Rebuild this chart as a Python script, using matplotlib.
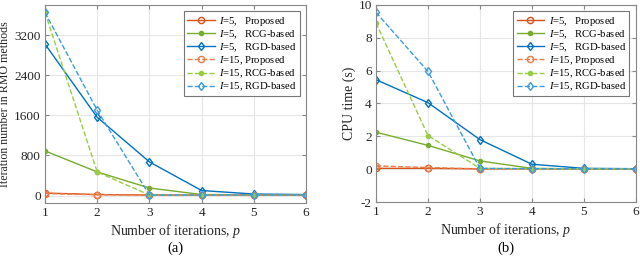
import numpy as np
import matplotlib
matplotlib.use("Agg")
import matplotlib.pyplot as plt

plt.rcParams['font.family'] = ['Liberation Serif', 'DejaVu Serif']
plt.rcParams['mathtext.fontset'] = 'custom'
plt.rcParams['mathtext.rm'] = 'Liberation Serif'
plt.rcParams['mathtext.it'] = 'Liberation Serif:italic'
plt.rcParams['axes.unicode_minus'] = False

p = [1, 2, 3, 4, 5, 6]

# (a) iteration numbers in RMO methods
it_prop5 = [50, 20, 10, 10, 10, 10]
it_rcg5 = [890, 470, 150, 20, 15, 10]
it_rgd5 = [3020, 1560, 670, 100, 30, 20]
it_prop15 = [40, 15, 10, 10, 10, 10]
it_rcg15 = [3650, 470, 10, 10, 10, 10]
it_rgd15 = [3650, 1700, 10, 10, 10, 10]

# (b) CPU time (s)
t_prop5 = [0.05, 0.05, 0.02, 0.02, 0.02, 0.02]
t_rcg5 = [2.25, 1.45, 0.5, 0.05, 0.02, 0.02]
t_rgd5 = [5.45, 4.05, 1.8, 0.3, 0.05, 0.03]
t_prop15 = [0.2, 0.1, 0.02, 0.02, 0.02, 0.02]
t_rcg15 = [8.9, 2.05, 0.05, 0.03, 0.02, 0.02]
t_rgd15 = [9.55, 5.95, 0.05, 0.03, 0.02, 0.02]

labels = ['$I$=5,   Proposed', '$I$=5,   RCG-based', '$I$=5,   RGD-based',
          '$I$=15, Proposed', '$I$=15, RCG-based', '$I$=15, RGD-based']
colors = ['#D95319', '#77AC30', '#0072BD', '#EE7A45', '#99CC44', '#3C9BE0']
markers = ['o', '.', 'd', 'o', '.', 'd']
styles = ['-', '-', '-', '--', '--', '--']

fig = plt.figure(figsize=(6.4, 2.6), dpi=100)
ax1 = fig.add_axes([0.0703, 0.219, 0.408, 0.762])
ax2 = fig.add_axes([0.5875, 0.223, 0.406, 0.758])

def draw(ax, series):
    for k, y in enumerate(series):
        ax.plot(p, y, linestyle=styles[k], color=colors[k], marker=markers[k],
                markersize=4.5 if markers[k] != '.' else 6,
                markerfacecolor='none' if markers[k] != '.' else colors[k],
                markeredgewidth=1.0, linewidth=1.0, label=labels[k])
    ax.set_xlim(1, 6)
    ax.set_xticks(p)
    ax.grid(True, color='#e6e6e6', linewidth=0.8)
    ax.set_axisbelow(True)
    for s in ax.spines.values():
        s.set_color('#888888')
        s.set_linewidth(0.8)
    ax.tick_params(direction='in', top=True, right=True, labelsize=9.5,
                   color='#888888', length=3, pad=3, labelcolor='#262626')
    ax.set_xlabel('Number of iterations, $p$', fontsize=10, color='#262626', labelpad=2)
    leg = ax.legend(loc='upper right', fontsize=7.7, frameon=True, fancybox=False,
                    edgecolor='#555555', handlelength=2.6, handletextpad=0.4,
                    labelspacing=0.05, borderpad=0.3, borderaxespad=0.6)
    leg.get_frame().set_linewidth(0.8)

draw(ax1, [it_prop5, it_rcg5, it_rgd5, it_prop15, it_rcg15, it_rgd15])
ax1.set_ylim(-150, 3800)
ax1.set_yticks([0, 800, 1600, 2400, 3200])
ax1.set_ylabel('Iteration number in RMO methods', fontsize=8.6, color='#262626', labelpad=2)

draw(ax2, [t_prop5, t_rcg5, t_rgd5, t_prop15, t_rcg15, t_rgd15])
ax2.set_ylim(-2, 10)
ax2.set_yticks([-2, 0, 2, 4, 6, 8, 10])
ax2.set_ylabel('CPU time (s)', fontsize=10, color='#262626', labelpad=2)

fig.text(0.274, 0.03, '(a)', ha='center', fontsize=10.5)
fig.text(0.79, 0.03, '(b)', ha='center', fontsize=10.5)

fig.savefig('out.png', dpi=100)
